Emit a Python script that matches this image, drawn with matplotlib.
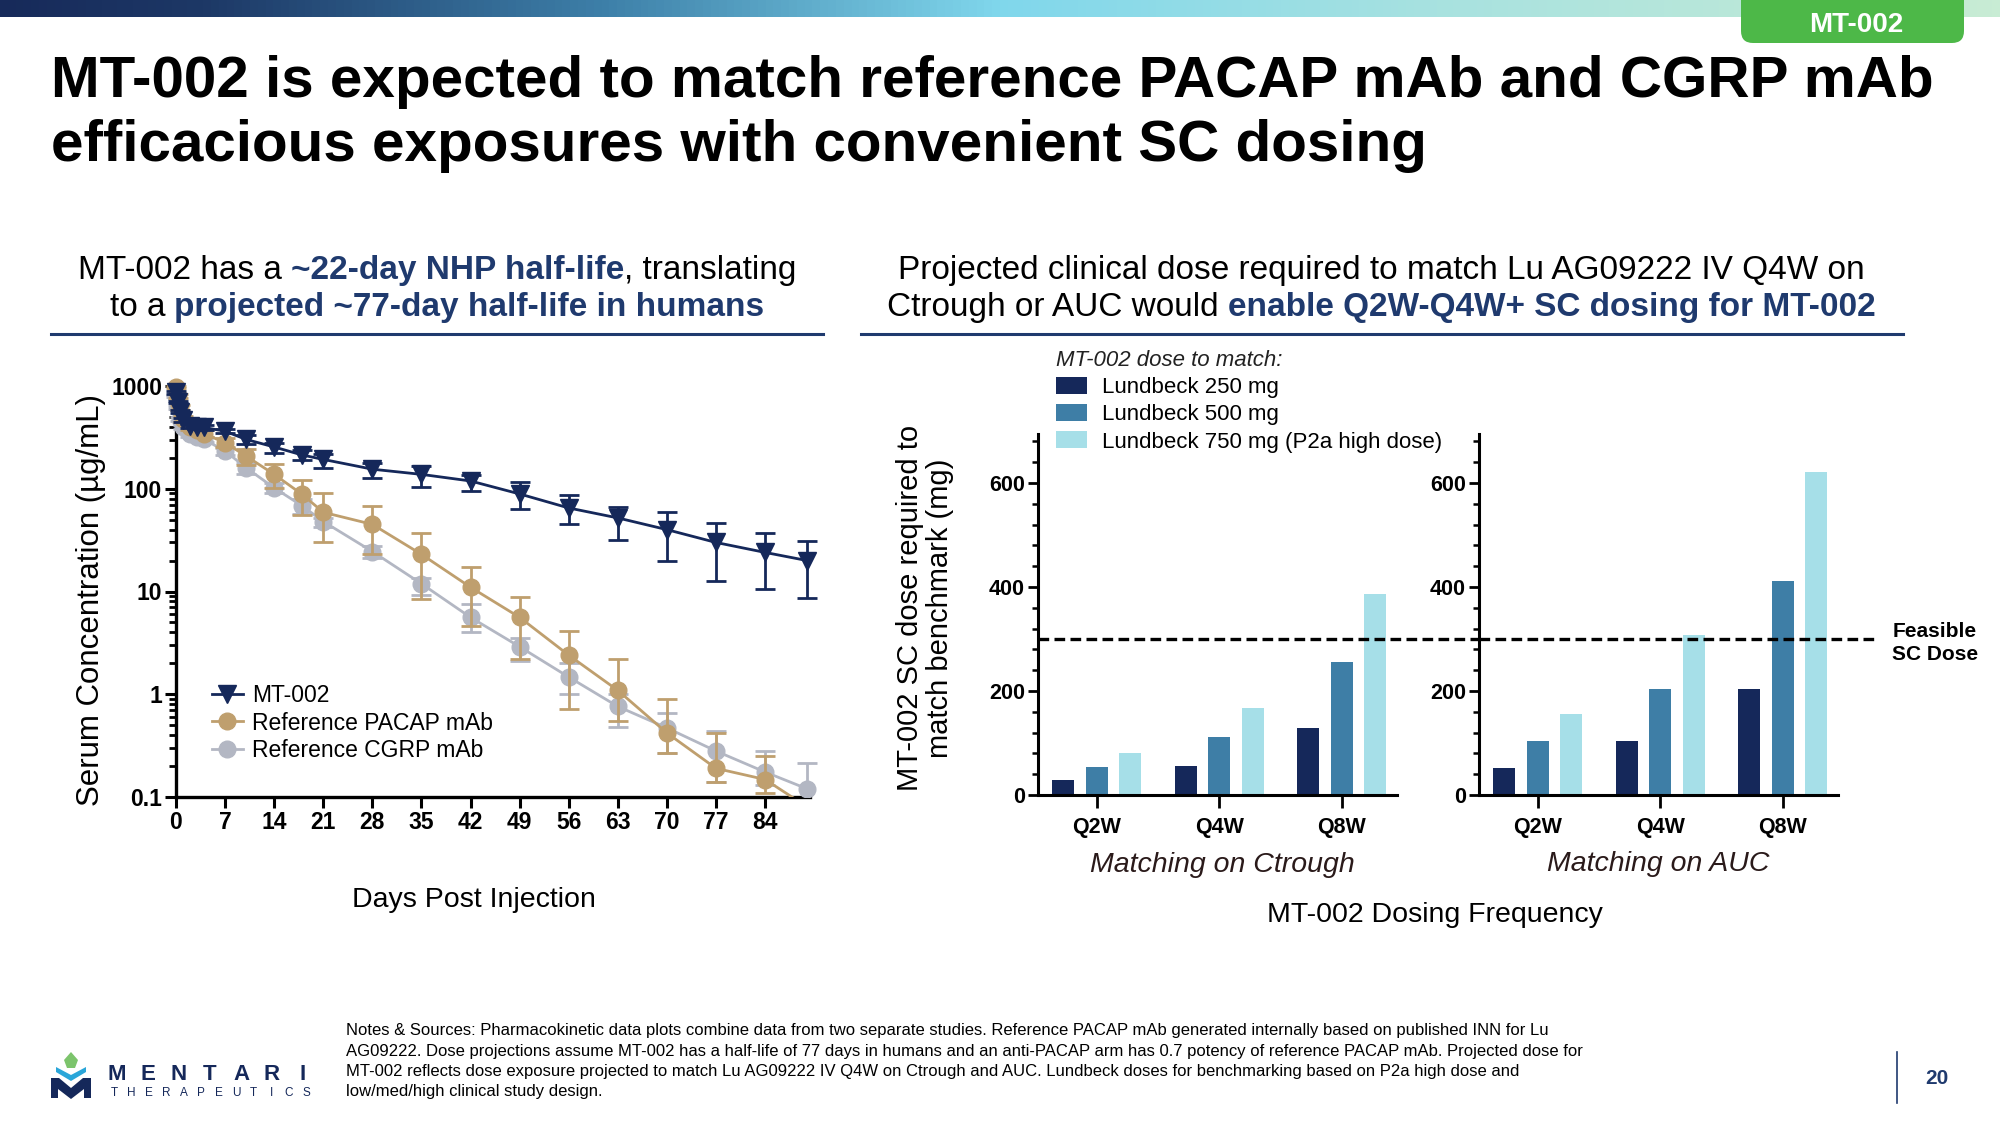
import numpy as np
import matplotlib
matplotlib.use("Agg")
import matplotlib.pyplot as plt
from matplotlib.patches import Rectangle, Polygon, FancyBboxPatch
from matplotlib.lines import Line2D
from matplotlib.colors import LinearSegmentedColormap
from matplotlib.ticker import LogLocator, FixedLocator, MultipleLocator, NullFormatter

plt.rcParams["font.family"] = ["Liberation Sans", "DejaVu Sans"]

# ---------------- data ----------------
days = [0, 0.25, 0.5, 1, 2, 3, 4, 7, 10, 14, 18, 21, 28, 35, 42, 49, 56, 63, 70, 77, 84, 90]

mt002 = [870, 700, 560, 470, 410, 400, 395, 363, 302, 255, 213, 193, 155, 138, 119, 89, 65, 52, 40, 30, 24, 20]
mt002_hi = [900, 720, 580, 490, 430, 420, 420, 380, 330, 280, 236, 216, 179, 165, 135, 116, 86, 67, 59, 46, 37, 31]
mt002_lo = [840, 680, 540, 450, 390, 380, 370, 345, 275, 224, 189, 158, 126, 104, 95, 64, 45, 32, 20, 12.6, 10.6, 8.7]

pacap = [980, 800, 620, 480, 400, 370, 344, 280, 208, 138, 88, 59, 45, 23, 11, 5.6, 2.4, 1.09, 0.42, 0.19, 0.148, 0.08]
pacap_hi = [1000, 830, 650, 510, 430, 400, 370, 310, 245, 176, 123, 90, 68, 37, 17.4, 8.9, 4.1, 2.2, 0.89, 0.42, 0.25, 0.08]
pacap_lo = [950, 770, 590, 450, 370, 340, 320, 255, 170, 102, 56, 30, 23, 8.5, 4.6, 2.2, 0.72, 0.55, 0.27, 0.14, 0.11, 0.08]

cgrp = [800, 620, 480, 400, 340, 320, 302, 233, 160, 102, 68, 48, 24.5, 11.9, 5.6, 2.9, 1.47, 0.76, 0.47, 0.28, 0.175, 0.12]
cgrp_hi = [820, 640, 500, 420, 360, 335, 320, 250, 180, 115, 80, 52, 27.8, 13.6, 7.5, 3.5, 2.0, 1.0, 0.65, 0.44, 0.28, 0.215]
cgrp_lo = [780, 600, 460, 380, 320, 305, 285, 215, 140, 90, 57, 42, 21, 9.3, 4.0, 2.1, 1.0, 0.48, 0.27, 0.14, 0.13, 0.07]

pk_labels = ["MT-002", "Reference PACAP mAb", "Reference CGRP mAb"]
day_ticks = [0, 7, 14, 21, 28, 35, 42, 49, 56, 63, 70, 77, 84]
conc_ticks = [0.1, 1, 10, 100, 1000]
conc_ticklabels = ["0.1", "1", "10", "100", "1000"]

freqs = ["Q2W", "Q4W", "Q8W"]
dose_labels = ["Lundbeck 250 mg", "Lundbeck 500 mg", "Lundbeck 750 mg (P2a high dose)"]
ctrough_250 = [28, 56, 128]
ctrough_500 = [53, 112, 256]
ctrough_750 = [80, 168, 386]
auc_250 = [52, 103, 204]
auc_500 = [103, 204, 412]
auc_750 = [155, 308, 621]
feasible_dose = 300
dose_ticks = [0, 200, 400, 600]

notes = [
    "Notes & Sources: Pharmacokinetic data plots combine data from two separate studies. Reference PACAP mAb generated internally based on published INN for Lu",
    "AG09222. Dose projections assume MT-002 has a half-life of 77 days in humans and an anti-PACAP arm has 0.7 potency of reference PACAP mAb. Projected dose for",
    "MT-002 reflects dose exposure projected to match Lu AG09222 IV Q4W on Ctrough and AUC. Lundbeck doses for benchmarking based on P2a high dose and",
    "low/med/high clinical study design.",
]

# ---------------- colours ----------------
NAVY = "#15285a"
TEXT_NAVY = "#1f3a6e"
TAN = "#bf9f6e"
GREY = "#b3b7c3"
MID = "#3e7ea6"
LIGHT = "#a6dfe8"

W, H = 2000, 1125


def fx(px):
    return px / W


def fy(py):
    return 1 - py / H


def box(x0, y0, x1, y1):
    return [fx(x0), fy(y1), (x1 - x0) / W, (y1 - y0) / H]


fig = plt.figure(figsize=(20, 11.25), dpi=100)
fig.patch.set_facecolor("white")

# top gradient bar
ax_bar = fig.add_axes(box(0, 0, 2000, 17))
cmap = LinearSegmentedColormap.from_list(
    "band", [(0, "#172a5a"), (0.1, "#1d3866"), (0.3, "#3d7fa8"), (0.5, "#80d7ec"), (0.72, "#a8e2e0"), (1, "#c8ecd4")])
ax_bar.imshow(np.linspace(0, 1, 512)[None, :], aspect="auto", cmap=cmap)
ax_bar.axis("off")

badge = FancyBboxPatch((fx(1741), fy(43)), (1964 - 1741) / W, 80 / H,
                       boxstyle="round,pad=0,rounding_size=0.006", mutation_aspect=W / H,
                       transform=fig.transFigure, facecolor="#4db848", edgecolor="none", zorder=5)
fig.patches.append(badge)
fig.text(fx(1856), fy(25), "MT-002", color="white", fontsize=20, fontweight="bold",
         ha="center", va="center", zorder=6)

# title
fig.text(fx(51), fy(97), "MT-002 is expected to match reference PACAP mAb and CGRP mAb",
         fontsize=42, fontweight="bold", va="baseline")
fig.text(fx(51), fy(161), "efficacious exposures with convenient SC dosing",
         fontsize=42, fontweight="bold", va="baseline")

renderer = fig.canvas.get_renderer()


def rich_line(xc, y, parts, size):
    # parts: (text, bold, space_before)
    sp_w = {}
    for b in (False, True):
        w = "bold" if b else "normal"
        t1 = fig.text(0, 0, "a a", fontsize=size, fontweight=w)
        t2 = fig.text(0, 0, "aa", fontsize=size, fontweight=w)
        sp_w[b] = t1.get_window_extent(renderer).width - t2.get_window_extent(renderer).width
        t1.remove()
        t2.remove()
    texts, widths = [], []
    for s, b, sp in parts:
        t = fig.text(0, fy(y), s, fontsize=size, fontweight="bold" if b else "normal",
                     color=TEXT_NAVY if b else "black", va="baseline", ha="left")
        texts.append(t)
        widths.append(t.get_window_extent(renderer).width + (sp_w[b] if sp else 0))
    x = xc - sum(widths) / 2
    for (s, b, sp), t, w in zip(parts, texts, widths):
        t.set_x(fx(x + (sp_w[b] if sp else 0)))
        x += w


rich_line(437, 279, [("MT-002 has a", False, False), ("~22-day NHP half-life", True, True),
                     (", translating", False, False)], 24)
rich_line(437, 316, [("to a", False, False), ("projected ~77-day half-life in humans", True, True)], 24)
rich_line(1381, 279, [("Projected clinical dose required to match Lu AG09222 IV Q4W on", False, False)], 24)
rich_line(1381, 316, [("Ctrough or AUC would", False, False),
                      ("enable Q2W-Q4W+ SC dosing for MT-002", True, True)], 24)

fig.add_artist(Line2D([fx(51), fx(823)], [fy(334), fy(334)], color=TEXT_NAVY, lw=2.2))
fig.add_artist(Line2D([fx(861), fx(1903)], [fy(334), fy(334)], color=TEXT_NAVY, lw=2.2))

# ---------------- left: PK curves ----------------
ax = fig.add_axes(box(176, 386, 810, 797))
clip = Rectangle((-0.06, 0), 1.2, 1.3, transform=ax.transAxes)

series = [
    (cgrp, cgrp_lo, cgrp_hi, GREY, "o", 12, 3),
    (pacap, pacap_lo, pacap_hi, TAN, "o", 12, 4),
    (mt002, mt002_lo, mt002_hi, NAVY, "v", 13, 5),
]
for vals, lo, hi, col, mk, ms, z in series:
    v = np.array(vals)
    err = [v - np.array(lo), np.array(hi) - v]
    cont = ax.errorbar(days, v, yerr=err, fmt="-" + mk, color=col, ms=ms, mec=col, lw=2,
                       elinewidth=2, capsize=7, capthick=2, zorder=z)
    cont.lines[0].set_clip_path(clip)
    for c in cont.lines[1]:
        c.set_clip_path(clip)
    for c in cont.lines[2]:
        c.set_clip_path(clip)

ax.set_yscale("log")
ax.set_ylim(0.1, 1000)
ax.set_xlim(0, 90.4)
ax.yaxis.set_major_locator(FixedLocator(conc_ticks))
ax.set_yticklabels(conc_ticklabels)
ax.yaxis.set_minor_locator(LogLocator(base=10, subs=np.arange(2, 10)))
ax.yaxis.set_minor_formatter(NullFormatter())
ax.set_xticks(day_ticks)
for s in ["top", "right"]:
    ax.spines[s].set_visible(False)
for s in ["left", "bottom"]:
    ax.spines[s].set_linewidth(2.4)
ax.tick_params(axis="both", which="major", length=8, width=2.2, labelsize=16.5, pad=2)
ax.tick_params(axis="y", which="minor", length=5, width=2)
for lab in ax.get_xticklabels() + ax.get_yticklabels():
    lab.set_fontweight("bold")
ax.set_facecolor("none")

handles = [
    Line2D([], [], color=NAVY, marker="v", ms=13, lw=2),
    Line2D([], [], color=TAN, marker="o", ms=12, lw=2),
    Line2D([], [], color=GREY, marker="o", ms=12, lw=2),
]
ax.legend(handles, pk_labels, loc="center left", bbox_to_anchor=(fx(212), fy(723)),
          bbox_transform=fig.transFigure, frameon=False, fontsize=16.5, handlelength=1.35,
          handletextpad=0.4, labelspacing=0.18, borderpad=0, borderaxespad=0)

fig.text(fx(91), fy(600), "Serum Concentration (\u00b5g/mL)", rotation=90, fontsize=22.5,
         ha="center", va="center")
fig.text(fx(474), fy(900), "Days Post Injection", fontsize=20.5, ha="center", va="center")

# ---------------- right: dose bars ----------------
x = np.arange(len(freqs))
off, bw = 0.273, 0.18
panels = [
    (box(1038, 434, 1397, 795), [ctrough_250, ctrough_500, ctrough_750], 1.231),
    (box(1479, 434, 1838, 795), [auc_250, auc_500, auc_750], 1.11),
]
bar_handles = None
for rect, groups, dash_end in panels:
    axb = fig.add_axes(rect)
    conts = []
    for i, (vals, col) in enumerate(zip(groups, [NAVY, MID, LIGHT])):
        conts.append(axb.bar(x + (i - 1) * off, vals, width=bw, color=col, zorder=2))
    if bar_handles is None:
        bar_handles = conts
    axb.axhline(feasible_dose, xmin=0, xmax=dash_end, color="black", lw=2.4,
                ls=(0, (3.2, 1.6)), clip_on=False, zorder=4)
    axb.set_xlim(-0.48, 2.45)
    axb.set_ylim(0, 694)
    axb.set_xticks(x)
    axb.set_xticklabels(freqs)
    axb.yaxis.set_major_locator(FixedLocator(dose_ticks))
    axb.yaxis.set_minor_locator(MultipleLocator(40))
    for s in ["top", "right"]:
        axb.spines[s].set_visible(False)
    for s in ["left", "bottom"]:
        axb.spines[s].set_linewidth(2.2)
    axb.tick_params(axis="y", which="major", length=7.5, width=2, labelsize=15.5, pad=2)
    axb.tick_params(axis="y", which="minor", length=4.5, width=1.8)
    axb.tick_params(axis="x", which="major", length=9.5, width=2, labelsize=15.5, pad=6)
    for lab in axb.get_xticklabels() + axb.get_yticklabels():
        lab.set_fontweight("bold")
    axb.set_facecolor("none")

leg = fig.legend(bar_handles, dose_labels, loc="upper left", bbox_to_anchor=(fx(1056), fy(350)),
                 title="MT-002 dose to match:", alignment="left", frameon=False, fontsize=16,
                 title_fontsize=16, handlelength=1.4, handleheight=0.8, handletextpad=0.68,
                 labelspacing=0.27, borderpad=0, borderaxespad=0)
leg.get_title().set_fontstyle("italic")
leg.get_title().set_color("#222222")

fig.text(fx(925), fy(608), "MT-002 SC dose required to\nmatch benchmark (mg)", rotation=90,
         fontsize=21, ha="center", va="center", linespacing=1.1)
fig.text(fx(1222), fy(865), "Matching on Ctrough", fontsize=20.5, style="italic",
         color="#2a1a1a", ha="center", va="center")
fig.text(fx(1658), fy(864), "Matching on AUC", fontsize=20.5, style="italic",
         color="#2a1a1a", ha="center", va="center")
fig.text(fx(1435), fy(915), "MT-002 Dosing Frequency", fontsize=20.5, ha="center", va="center")
fig.text(fx(1935), fy(643), "Feasible\nSC Dose", fontsize=15, fontweight="bold",
         ha="center", va="center", linespacing=1.25)

# ---------------- footer ----------------
for i, line in enumerate(notes):
    fig.text(fx(346), fy(1031 + 20.3 * i), line, fontsize=12, ha="left", va="center")

fig.add_artist(Line2D([fx(1897), fx(1897)], [fy(1052), fy(1103)], color=TEXT_NAVY, lw=1.2))
fig.text(fx(1937), fy(1078), "20", fontsize=15, fontweight="bold", color=TEXT_NAVY,
         ha="center", va="center")

# logo
leaf = [(71, 1052), (78, 1060), (75, 1068), (67, 1068), (64, 1060)]
bowl = [(56, 1067), (71, 1075), (86, 1067), (86, 1072), (71, 1081), (56, 1072)]
m_shape = [(51, 1078), (59, 1078), (71, 1088), (83, 1078), (91, 1078), (91, 1098), (84, 1098),
           (84, 1089), (71, 1099), (58, 1089), (58, 1098), (51, 1098)]
for pts, col in [(leaf, "#7cc46c"), (bowl, "#2aa6d9"), (m_shape, NAVY)]:
    fig.patches.append(Polygon([(fx(a), fy(b)) for a, b in pts], closed=True,
                               transform=fig.transFigure, facecolor=col, edgecolor="none"))
for cx, ch in zip(np.linspace(117, 303, 7), "MENTARI"):
    fig.text(fx(cx), fy(1075), ch, fontsize=16, fontweight="bold", color=NAVY,
             ha="center", va="center")
for cx, ch in zip(np.linspace(114, 306, 12), "THERAPEUTICS"):
    fig.text(fx(cx), fy(1093), ch, fontsize=8.5, color=NAVY, ha="center", va="center")

fig.savefig("out.png", dpi=100)
